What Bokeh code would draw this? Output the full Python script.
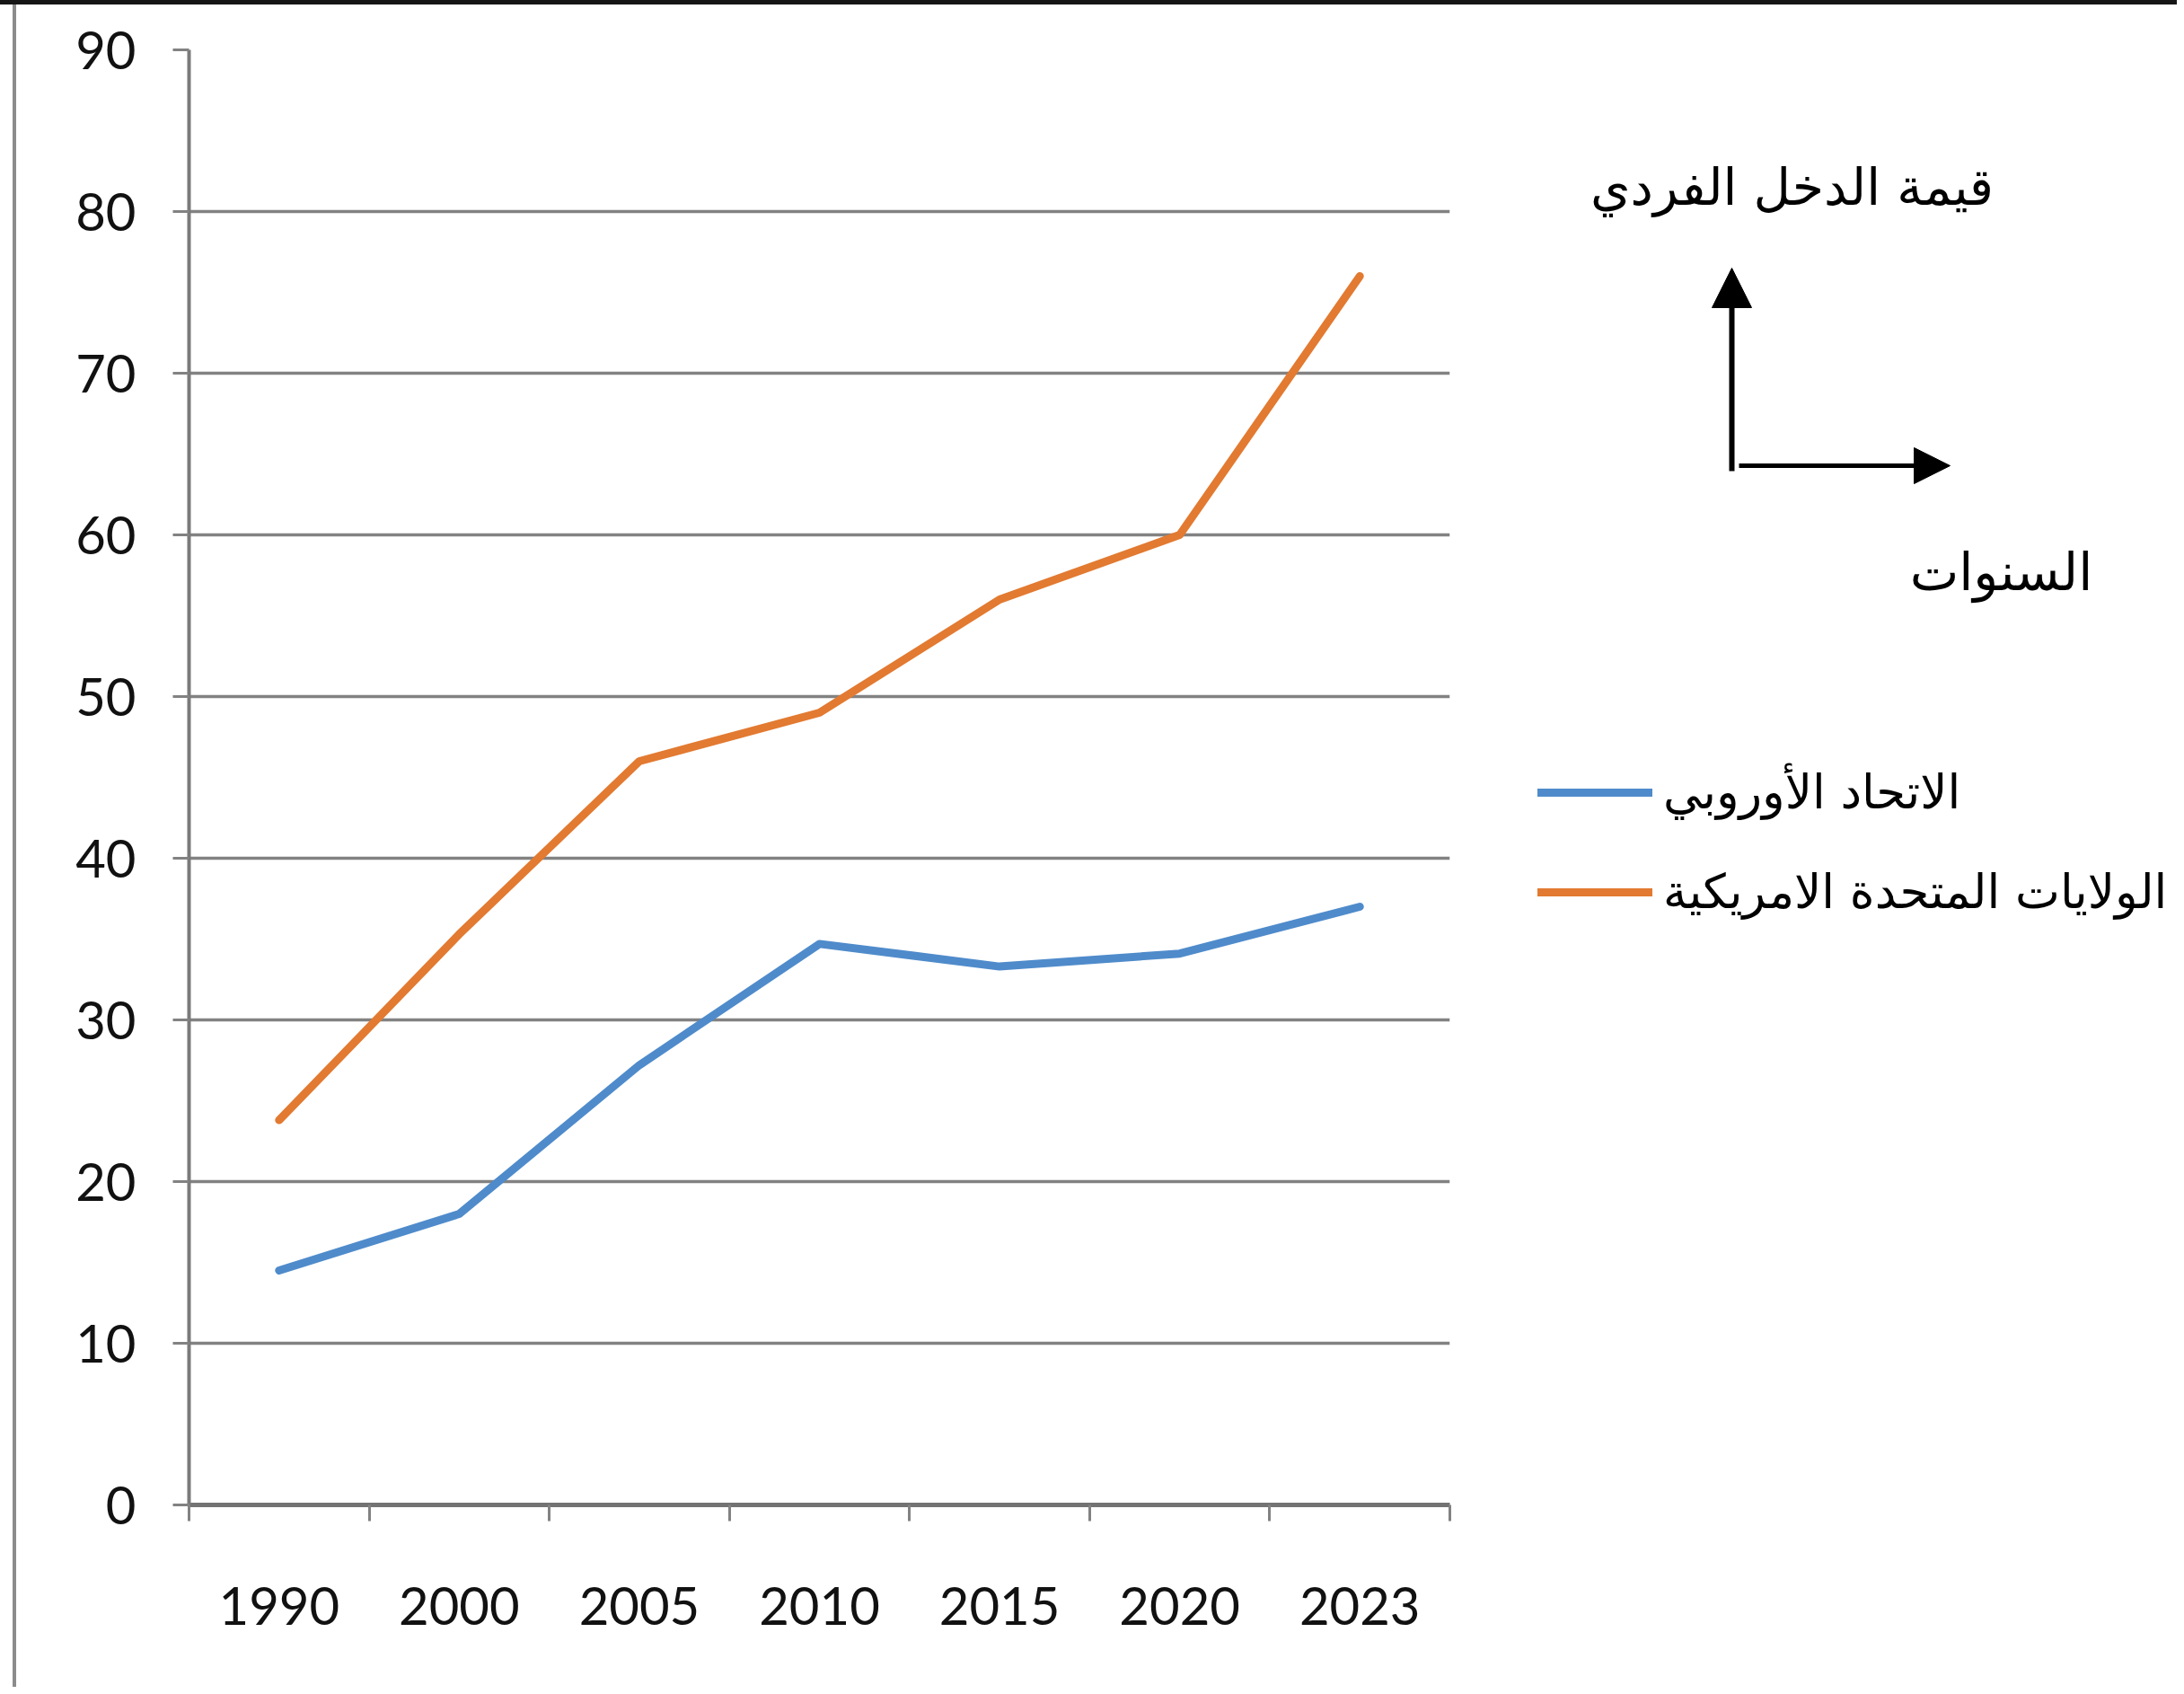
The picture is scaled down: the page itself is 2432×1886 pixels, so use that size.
from bokeh.plotting import figure
from bokeh.layouts import row
from bokeh.models import (Range1d, FixedTicker, LinearAxis, Label, Arrow, NormalHead,
                          Legend, LegendItem, Grid)
from bokeh.embed import file_html
from bokeh.resources import INLINE

# ---- data ----
years = ["1990", "2000", "2005", "2010", "2015", "2020", "2023"]
eu_values = [14.5, 18.0, 27.2, 34.7, 33.3, 34.1, 37.0]
us_values = [23.8, 35.3, 46.0, 49.0, 56.0, 60.0, 76.0]
series_names = ["الاتحاد الأوروبي", "الولايات المتحدة الامريكية"]
y_ticks = [0, 10, 20, 30, 40, 50, 60, 70, 80, 90]
y_axis_note = "قيمة الدخل الفردي"
x_axis_note = "السنوات"

EU_COLOR = "#4F8BCB"
US_COLOR = "#E27A31"
GRID_COLOR = "#828282"
AXIS_COLOR = "#7A7A7A"
TICK_FONT = "Lato"
AR_FONT = "DejaVu Sans"

H = 1878
W_MAIN = 1634
W_SIDE = 790
TOP, BOTTOM = 55, 203

x_idx = list(range(len(years)))

p = figure(width=W_MAIN, height=H, output_backend="svg", toolbar_location=None,
           x_range=Range1d(-0.5, len(years) - 0.5), y_range=Range1d(y_ticks[0], y_ticks[-1]),
           min_border_left=210, min_border_right=20, min_border_top=TOP, min_border_bottom=BOTTOM,
           x_axis_type=None, y_axis_type=None)
p.outline_line_color = None
p.background_fill_color = "white"
p.border_fill_alpha = 0
p.styles = {"box-shadow": "inset 0 5px 0 0 #151515, inset 14px 0 0 0 #FFFFFF, inset 18px 0 0 0 #8C8C8C",
            "background-color": "white"}

# y axis
yaxis = LinearAxis(ticker=FixedTicker(ticks=y_ticks))
yaxis.axis_line_color = AXIS_COLOR
yaxis.axis_line_width = 4
yaxis.major_tick_line_color = GRID_COLOR
yaxis.major_tick_line_width = 3
yaxis.major_tick_out = 18
yaxis.major_tick_in = 0
yaxis.minor_tick_line_color = None
yaxis.major_label_standoff = 41
yaxis.major_label_text_font = TICK_FONT
yaxis.major_label_text_font_size = "58px"
yaxis.major_label_text_color = "#111111"
p.add_layout(yaxis, "left")

# x axis (ticks between categories, labels at categories)
xaxis = LinearAxis(ticker=FixedTicker(ticks=x_idx,
                                      minor_ticks=[i - 0.5 for i in range(len(years) + 1)]))
xaxis.major_label_overrides = {i: y for i, y in enumerate(years)}
xaxis.major_tick_line_color = None
xaxis.major_tick_out = 0
xaxis.major_tick_in = 0
xaxis.minor_tick_line_color = GRID_COLOR
xaxis.minor_tick_line_width = 3
xaxis.minor_tick_out = 18
xaxis.minor_tick_in = 0
xaxis.axis_line_color = "#737373"
xaxis.axis_line_width = 5
xaxis.major_label_standoff = 73
xaxis.major_label_text_font = TICK_FONT
xaxis.major_label_text_font_size = "58px"
xaxis.major_label_text_color = "#111111"
p.add_layout(xaxis, "below")

p.add_layout(Grid(dimension=1, ticker=FixedTicker(ticks=y_ticks),
                  grid_line_color=GRID_COLOR, grid_line_width=3.5))

r_eu = p.line(x_idx, eu_values, line_color=EU_COLOR, line_width=9,
              line_join="round", line_cap="round")
r_us = p.line(x_idx, us_values, line_color=US_COLOR, line_width=9,
              line_join="round", line_cap="round")

# ---- side panel: legend and axis-direction sketch ----
# its frame spans page rows TOP .. H-BOTTOM, so the ranges are set to page pixels
side = figure(width=W_SIDE, height=H, output_backend="svg", toolbar_location=None,
              x_range=Range1d(W_MAIN, W_MAIN + W_SIDE), y_range=Range1d(H - BOTTOM, TOP),
              min_border_left=0, min_border_right=0,
              min_border_top=TOP, min_border_bottom=BOTTOM,
              x_axis_type=None, y_axis_type=None)
side.outline_line_color = None
side.background_fill_alpha = 0
side.border_fill_alpha = 0
side.styles = {"box-shadow": "inset 0 5px 0 0 #151515", "background-color": "white"}

# legend swatches mirror the series' line styles (proxy renderers, nothing plotted)
nan = float("nan")
k_eu = side.line([nan], [nan], line_color=EU_COLOR, line_width=9, line_cap="round")
k_us = side.line([nan], [nan], line_color=US_COLOR, line_width=9, line_cap="round")
legend = Legend(items=[LegendItem(label=series_names[0], renderers=[k_eu]),
                       LegendItem(label=series_names[1], renderers=[k_us])],
                location=(78, 652))
legend.glyph_width = 128
legend.glyph_height = 50
legend.label_height = 50
legend.spacing = 50
legend.padding = 0
legend.margin = 0
legend.border_line_color = None
legend.background_fill_alpha = 0
legend.label_standoff = 12
legend.label_text_font = AR_FONT
legend.label_text_font_size = "53px"
legend.label_text_baseline = "middle"
legend.label_text_color = "black"
side.add_layout(legend)

side.add_layout(Arrow(end=NormalHead(size=44, fill_color="black", line_color="black"),
                      x_start=1928, y_start=524, x_end=1928, y_end=298,
                      line_width=6, line_color="black"))
side.add_layout(Arrow(end=NormalHead(size=40, fill_color="black", line_color="black"),
                      x_start=1936, y_start=518, x_end=2171, y_end=518,
                      line_width=5, line_color="black"))
side.add_layout(Label(x=1995, y=207, text=y_axis_note,
                      text_align="center", text_baseline="middle",
                      text_font=AR_FONT, text_font_size="57px", text_color="black"))
side.add_layout(Label(x=2228, y=636, text=x_axis_note,
                      text_align="center", text_baseline="middle",
                      text_font=AR_FONT, text_font_size="58px", text_color="black"))

layout = row(p, side, spacing=0)
open("out.html", "w").write(file_html(layout, INLINE))
